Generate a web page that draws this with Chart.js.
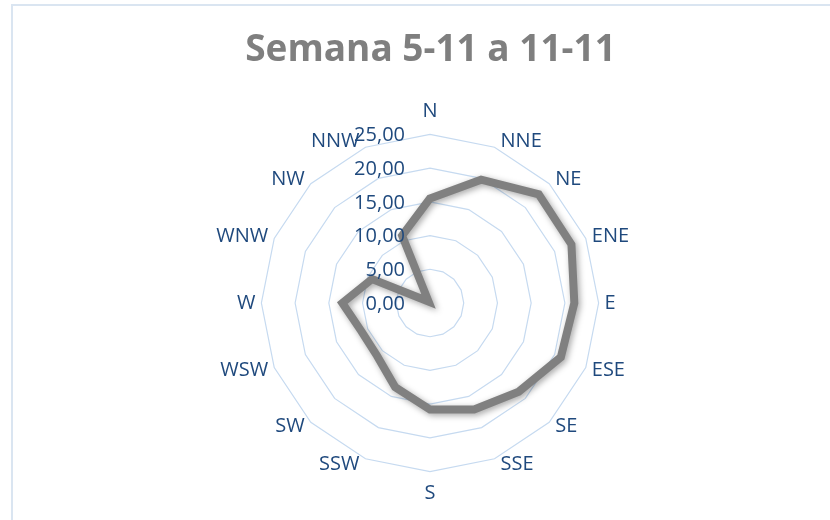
<!DOCTYPE html>
<html>
<head>
<meta charset="utf-8">
<script src="https://cdn.jsdelivr.net/npm/chart.js@4.4.0/dist/chart.umd.min.js"></script>
<style>
  html, body { margin: 0; padding: 0; background: #ffffff; }
  #frame {
    position: absolute; left: 11px; top: 4px; width: 840px; height: 530px;
    border-top: 2px solid #dae5f1; border-left: 2px solid #dae5f1;
  }
  #wrap { position: absolute; left: 0; top: 0; width: 830px; height: 520px; }
</style>
</head>
<body>
<div id="frame"></div>
<div id="wrap"><canvas id="myChart"></canvas></div>
<script>
'use strict';

const directions = ['N', 'NNE', 'NE', 'ENE', 'E', 'ESE', 'SE', 'SSE',
  'S', 'SSW', 'SW', 'WSW', 'W', 'WNW', 'NW', 'NNW'];
const weekValues = [15.5, 19.8, 22.8, 22.7, 21.4, 21.0, 18.6, 17.1,
  15.8, 13.5, 11.1, 11.0, 13.0, 9.3, 0.3, 10.8];
const tickValues = [0, 5, 10, 15, 20, 25];

const blueText = '#1f497d';
const labelFont = '20px "Open Sans"';

// tick labels sit just left of the N axis, right aligned
const tickLabelPlugin = {
  id: 'tickLabels',
  afterDatasetsDraw(chart) {
    const scale = chart.scales.r;
    const ctx = chart.ctx;
    ctx.save();
    ctx.font = labelFont;
    ctx.fillStyle = blueText;
    ctx.textAlign = 'right';
    ctx.textBaseline = 'middle';
    for (let v of tickValues) {
      let d = scale.getDistanceFromCenterForValue(v);
      ctx.fillText(v.toFixed(2).replace('.', ','), scale.xCenter - 25, scale.yCenter - d + 1);
    }
    ctx.restore();
  }
};

// excel style direction labels: beside the outer vertex, vertically centred
const dirLabelPlugin = {
  id: 'dirLabels',
  afterDraw(chart) {
    const scale = chart.scales.r;
    const ctx = chart.ctx;
    const n = directions.length;
    ctx.save();
    ctx.font = labelFont;
    ctx.fillStyle = blueText;
    ctx.textBaseline = 'middle';
    for (let i = 0; i < n; i++) {
      let p = scale.getPointPosition(i, scale.drawingArea);
      let theta = i * 2 * Math.PI / n;
      let x = p.x;
      let y = p.y;
      if (i === 0) {
        ctx.textAlign = 'center';
        y -= 23;
      } else if (i === n / 2) {
        ctx.textAlign = 'center';
        y += 22;
      } else {
        ctx.textAlign = i < n / 2 ? 'left' : 'right';
        x += i < n / 2 ? 6 : -6;
        y -= 6 * Math.cos(theta);
      }
      ctx.fillText(directions[i], x, y);
    }
    ctx.restore();
  }
};

const shadowPlugin = {
  id: 'lineShadow',
  beforeDatasetsDraw(chart) {
    chart.ctx.save();
    chart.ctx.shadowColor = 'rgba(0,0,0,0.35)';
    chart.ctx.shadowBlur = 6;
    chart.ctx.shadowOffsetX = 2;
    chart.ctx.shadowOffsetY = 2;
  },
  afterDatasetsDraw(chart) {
    chart.ctx.restore();
  }
};

const data = {
  labels: directions,
  datasets: [{
    label: 'Semana 5-11 a 11-11',
    data: weekValues,
    borderColor: '#808080',
    backgroundColor: 'rgba(0,0,0,0)',
    borderWidth: 8,
    borderJoinStyle: 'miter',
    fill: false,
    pointRadius: 0,
    pointHoverRadius: 0,
    tension: 0
  }]
};

const config = {
  type: 'radar',
  data: data,
  options: {
    responsive: true,
    maintainAspectRatio: false,
    animation: false,
    layout: { padding: { top: 2, bottom: 15, left: 31, right: 0 } },
    plugins: {
      legend: { display: false },
      tooltip: { enabled: false },
      title: {
        display: true,
        text: 'Semana 5-11 a 11-11',
        color: '#7f7f7f',
        font: { family: '"Open Sans"', size: 37, weight: 'bold', lineHeight: 1.2 },
        padding: { top: 26, bottom: 30 }
      }
    },
    scales: {
      r: {
        min: 0,
        max: 25,
        beginAtZero: true,
        ticks: { stepSize: 5, display: false },
        grid: { color: '#c6daf0', lineWidth: 1.2, circular: false },
        angleLines: { display: false },
        pointLabels: {
          // kept for layout only, drawn by dirLabelPlugin
          color: 'rgba(0,0,0,0)',
          padding: 8,
          font: { family: '"Open Sans"', size: 20 }
        }
      }
    }
  },
  plugins: [shadowPlugin, tickLabelPlugin, dirLabelPlugin]
};

let canvasChart = document.getElementById('myChart');
const myChart = new Chart(canvasChart, config);
</script>
</body>
</html>
